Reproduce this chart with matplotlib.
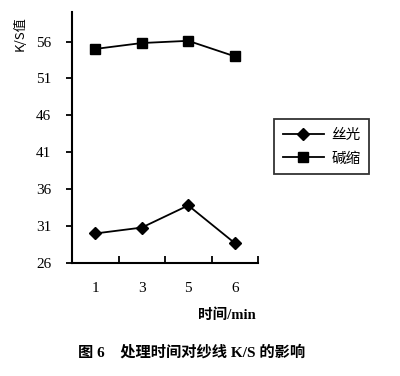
import matplotlib
matplotlib.use('Agg')
import matplotlib.pyplot as plt

plt.rcParams['font.family'] = ['Liberation Serif', 'Noto Sans CJK SC']

# data
times = ['1', '3', '5', '6']
silk = [30.0, 30.8, 33.8, 28.7]      # 丝光
shrink = [55.0, 55.8, 56.1, 54.0]    # 碱缩
yticks = [26, 31, 36, 41, 46, 51, 56]

fig = plt.figure(figsize=(4, 3.76), dpi=100)
ax = fig.add_axes([0.18, 0.3005, 0.465, 0.6675])

x = range(len(times))
ax.plot(x, silk, color='black', lw=1.3, marker='D', ms=6.5, label='丝光')
ax.plot(x, shrink, color='black', lw=1.3, marker='s', ms=7.5, label='碱缩')

ax.set_xlim(-0.5, len(times) - 0.5)
ax.set_ylim(26, 60)

# category labels centred, tick marks between categories
ax.set_xticks(list(x))
ax.set_xticklabels(times, fontsize=11)
ax.tick_params(axis='x', which='major', length=0, pad=14)
ax.set_xticks([i + 0.5 for i in x], minor=True)
ax.tick_params(axis='x', which='minor', direction='in', length=5, width=1.3)

ax.set_yticks(yticks)
ax.set_yticklabels([str(v) for v in yticks], fontsize=11)
ax.tick_params(axis='y', direction='out', length=4, width=1.3, pad=11)

for s in ['top', 'right']:
    ax.spines[s].set_visible(False)
for s in ['left', 'bottom']:
    ax.spines[s].set_linewidth(1.5)

leg = ax.legend(loc='upper left', bbox_to_anchor=(267 / 400, 1 - 112 / 376),
                bbox_transform=fig.transFigure, fancybox=False, frameon=True,
                edgecolor='black', handlelength=2.8, handletextpad=0.5,
                borderpad=0.6, labelspacing=0.65,
                prop={'family': ['Noto Sans CJK SC'], 'size': 10.5})
leg.get_frame().set_linewidth(1.3)

fig.text(0.05, 0.91, 'K/S值', rotation=90, ha='center', va='center', fontsize=9.5,
         family=['Noto Sans CJK SC'])
fig.text(0.5675, 1 - 315 / 376, '时间/min', ha='center', va='center', fontsize=10.5,
         weight='bold')
fig.text(0.478, 1 - 352 / 376, '图 6    处理时间对纱线 K/S 的影响', ha='center', va='center',
         fontsize=11, weight='bold')

fig.savefig('out.png', dpi=100)
